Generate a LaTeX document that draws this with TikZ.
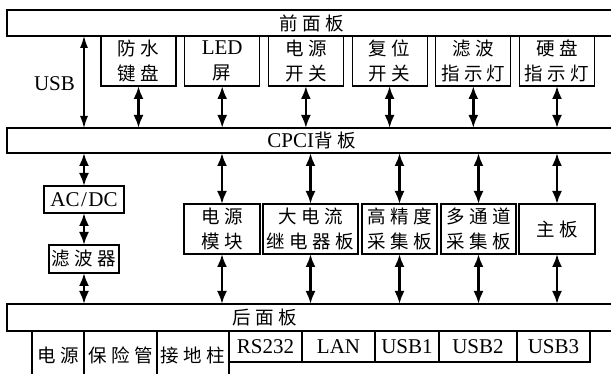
\documentclass[tikz,border=0pt]{standalone}
\usepackage{fontspec}
\setmainfont{Liberation Serif}
\newfontfamily\cjkfont[LetterSpace=24]{Noto Sans CJK SC}
\newcommand\zh[1]{{\cjkfont\fontsize{18.5}{25}\selectfont #1}}
\usetikzlibrary{arrows.meta}
\begin{document}
\begin{tikzpicture}[x=1pt,y=-1pt,
  box/.style={draw,line width=1.1pt,inner sep=0pt,outer sep=0pt,align=center,
    font=\fontsize{21}{25}\selectfont},
  panel/.style={box,minimum width=609pt},
  txt/.style={inner sep=0pt,align=center,font=\fontsize{21}{25}\selectfont},
  arr/.style={line width=2.4pt,{Latex[length=13pt,width=10pt]}-{Latex[length=13pt,width=10pt]}},
  usbarr/.style={line width=1.1pt,{Latex[length=12pt,width=8pt]}-{Latex[length=12pt,width=8pt]}},
  sep/.style={line width=1.1pt}]
\useasboundingbox (0,0) rectangle (611,374);
\clip (0,0) rectangle (611,374);
\fill[white] (0,0) rectangle (611,374);
% panels
\node[panel,minimum height=26pt] (front) at (311.5,23) {\zh{前面板}};
\node[panel,minimum height=25pt] (cpci) at (311.5,140.5) {CPCI\zh{背板}};
\node[panel,minimum height=27pt] (rear) at (311.5,317.5) {};
\node[txt] (reart) at (265,317.5) {\zh{后面板}};
% front panel items
\foreach \n/\cx/\t in {k1/138.5/{\zh{防水}\\\zh{键盘}},
                      k2/222.2/{LED\\\zh{屏}},
                      k3/305.9/{\zh{电源}\\\zh{开关}},
                      k4/389.6/{\zh{复位}\\\zh{开关}},
                      k5/473.3/{\zh{滤波}\\\zh{指示灯}},
                      k6/557/{\zh{硬盘}\\\zh{指示灯}}}{
  \node[box,minimum width=75pt,minimum height=50pt] (\n) at (\cx,61) {\t};
  \draw[arr] (\n.south) -- (\n.south |- cpci.north);
}
% USB
\node[box,minimum width=80pt,minimum height=27pt] (acdc) at (84,199.5) {AC\kern1.5pt/\kern1.5ptDC};
\node[box,minimum width=70pt,minimum height=28pt] (filt) at (84,259) {\zh{滤波器}};
\draw[usbarr] (front.south -| acdc) -- (cpci.north -| acdc);
\node[txt] (usb) at (54.5,83.5) {USB};
\draw[arr] (cpci.south -| acdc) -- (acdc.north);
\draw[arr] (acdc.south) -- (filt.north);
\draw[arr] (filt.south) -- (filt.south |- rear.north);
% middle boards
\foreach \n/\cx/\w/\t in {m1/222/76/{\zh{电源}\\\zh{模块}},
                         m2/310.5/95/{\zh{大电流}\\\zh{继电器板}},
                         m3/399.5/75/{\zh{高精度}\\\zh{采集板}},
                         m4/478.5/75/{\zh{多通道}\\\zh{采集板}},
                         m5/557/76/{\zh{主板}}}{
  \node[box,minimum width=\w pt,minimum height=50pt] (\n) at (\cx,229) {\t};
  \draw[arr] (\n.north |- cpci.south) -- (\n.north);
  \draw[arr] (\n.south) -- (\n.south |- rear.north);
}
% rear connectors
\draw[sep] (32,331) -- (32,380);
\draw[sep] (84,331) -- (84,380);
\draw[sep] (157,331) -- (157,380);
\draw[sep] (229,331) -- (229,380);
\node[txt] (p1) at (58,355) {\zh{电源}};
\node[txt] (p2) at (120.5,355) {\zh{保险管}};
\node[txt] (p3) at (193,355) {\zh{接地柱}};
\foreach \n/\cx/\w/\t in {r1/265.5/73/RS232, r2/338.5/73/LAN, r3/407/64/USB1,
                         r4/478/78/USB2, r5/553.5/73/USB3}{
  \node[box,minimum width=\w pt,minimum height=31pt] (\n) at (\cx,346.5) {\t};
}
\end{tikzpicture}
\end{document}
